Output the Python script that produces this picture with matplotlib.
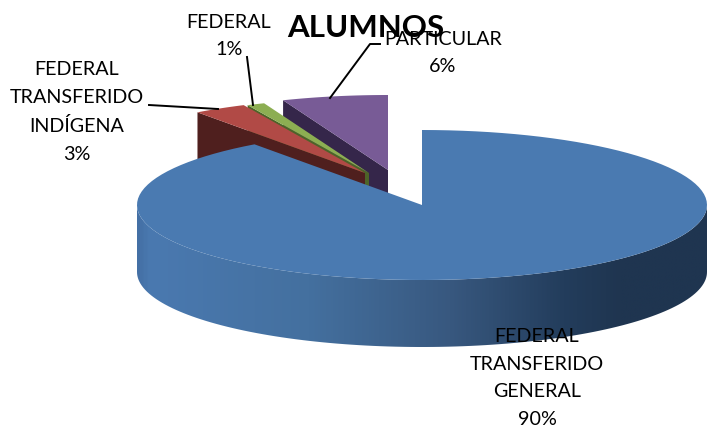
import numpy as np
import matplotlib
matplotlib.use("Agg")
from matplotlib import pyplot as plt
from matplotlib.colors import LinearSegmentedColormap
from matplotlib.patches import Polygon

plt.rcParams["font.family"] = ["Lato", "DejaVu Sans"]

# data, clockwise from 12 o'clock
categories = ["FEDERAL\nTRANSFERIDO\nGENERAL", "FEDERAL\nTRANSFERIDO\nINDÍGENA", "FEDERAL", "PARTICULAR"]
values = [90, 3, 1, 6]
title = "ALUMNOS"

top_colors = ["#4a7ab1", "#b14a46", "#8cae52", "#785b96"]
side_colors = ["#1f3550", "#4f1f1e", "#4d6428", "#35264a"]

# apex of every slice in pixels (the small ones are pulled out)
apex_x = [422, 365, 369, 388]
apex_y = [205, 173, 173, 170]
label_x = [537, 77, 229, 443]
label_y = [378, 112, 36, 53]

RX = 285
RY = 75
DEPTH = 67


def arc(cx, cy, a0, a1):
    t = np.radians(np.linspace(a0, a1, 120))
    return np.column_stack((cx + RX * np.sin(t), cy - RY * np.cos(t)))


def draw_slice(ax, i, a0, a1, z):
    cx, cy = apex_x[i], apex_y[i]
    # cut face on the left edge of the slice, seen from the front
    end = arc(cx, cy, a0, a0)[0]
    wall = [(cx, cy), tuple(end), (end[0], end[1] + DEPTH), (cx, cy + DEPTH)]
    ax.add_patch(Polygon(wall, closed=True, fc=side_colors[i], ec="none", zorder=z))
    pts = np.vstack(([(cx, cy)], arc(cx, cy, a0, a1)))
    ax.add_patch(Polygon(pts, closed=True, fc=top_colors[i], ec="none", zorder=z))


fig = plt.figure(figsize=(7.13, 4.33), dpi=100)
ax = fig.add_axes([0, 0, 1, 1])

shares = 360 * np.array(values) / sum(values)
starts = np.concatenate(([0], np.cumsum(shares)[:-1]))

# small slices, back to front: purple, green, red
for n, i in enumerate([3, 2, 1]):
    draw_slice(ax, i, starts[i], starts[i] + shares[i], 2 + n)

# side wall of the big slice with the horizontal shading
cx, cy = apex_x[0], apex_y[0]
front = arc(cx, cy, 90, 270)
wall = np.vstack((front, front[::-1] + [0, DEPTH]))
clip = Polygon(wall, closed=True, fc="none", ec="none", transform=ax.transData)
ax.add_patch(clip)
cmap = LinearSegmentedColormap.from_list(
    "wall",
    [(0, "#4470a5"), (0.02, "#4a79b0"), (0.3, "#44709f"), (0.55, "#38587f"), (0.75, "#233d5c"), (0.85, "#1f3550"), (1, "#1f3550")],
)
grad = ax.imshow(
    np.linspace(0, 1, 400).reshape(1, -1),
    extent=(cx - RX, cx + RX, cy + RY + DEPTH, cy),
    cmap=cmap,
    aspect="auto",
    zorder=6,
)
grad.set_clip_path(clip)

pts = np.vstack(([(cx, cy)], arc(cx, cy, starts[0], starts[0] + shares[0])))
ax.add_patch(Polygon(pts, closed=True, fc=top_colors[0], ec="none", zorder=7))

# leader lines
ax.plot([149, 218], [105, 109], color="black", lw=1.4, zorder=8)
ax.plot([247, 253], [57, 105], color="black", lw=1.4, zorder=8)
ax.plot([380, 370, 330], [44, 44, 98], color="black", lw=1.4, zorder=8)

for i, name in enumerate(categories):
    ax.text(label_x[i], label_y[i], f"{name}\n{values[i]}%", ha="center", va="center",
            fontsize=14.2, color="black", linespacing=1.78, zorder=9)

ax.text(366, 28, title, ha="center", va="center", fontsize=22.5, fontweight="bold", zorder=10)

ax.set_xlim(0, 713)
ax.set_ylim(433, 0)
ax.axis("off")
fig.savefig("out.png", dpi=100, facecolor="white")
